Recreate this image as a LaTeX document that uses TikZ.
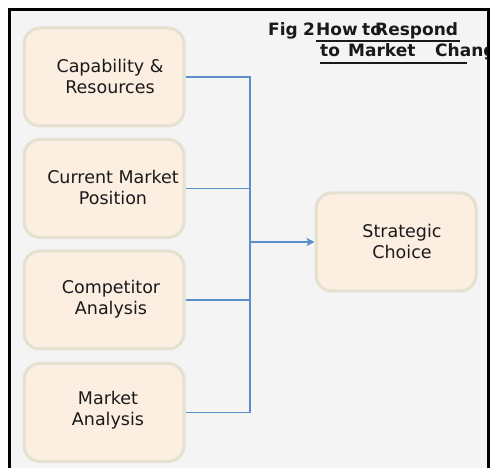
\documentclass[tikz,border=0pt]{standalone}
\usepackage{fontspec}
\setmainfont{DejaVu Sans}
\usetikzlibrary{arrows.meta,calc}
\definecolor{bgray}{HTML}{F4F4F4}
\definecolor{boxfill}{HTML}{FDEEE2}
\definecolor{boxline}{HTML}{E4E1D1}
\definecolor{lineblue}{HTML}{5A8FCC}
\definecolor{txt}{HTML}{1A1A1A}
\tikzset{
  card/.style={draw=boxline, line width=3pt, fill=boxfill, rounded corners=16pt,
    minimum width=160pt, minimum height=98pt, inner sep=0pt},
  cardtext/.style={align=center, text=txt, font=\fontsize{17.5}{21}\selectfont, inner sep=0pt},
  title/.style={anchor=base west, text=txt, font=\bfseries\fontsize{17}{21}\selectfont, inner sep=0pt},
  link/.style={draw=lineblue, line width=1.5pt},
  uline/.style={draw=txt, line width=1.6pt}
}
\begin{document}
\begin{tikzpicture}[x=1pt,y=-1pt]
\useasboundingbox (0,0) rectangle (491,468);
\fill[white] (0,0) rectangle (491,468);
\fill[bgray] (9.5,9.5) rectangle (488.5,470);
\draw[black, line width=3pt] (9.5,472) -- (9.5,9.5) -- (488.5,9.5) -- (488.5,472);
% boxes
\node[card] (b1) at (104,77) {};
\node[card] (b2) at (104,188.5) {};
\node[card] (b3) at (104,300) {};
\node[card] (b4) at (104,412.5) {};
\node[card] (sc) at (396,242) {};
\node[cardtext] (t1) at (110,76) {Capability \&\\Resources};
\node[cardtext] (t2) at (113,187) {Current Market\\Position};
\node[cardtext] (t3) at (111,299) {Competitor\\Analysis};
\node[cardtext] (t4) at (108,410) {Market\\Analysis};
\node[cardtext] (t5) at (402,241) {Strategic\\Choice};
% connectors
\coordinate (j1) at (250,77);
\coordinate (j4) at (250,412.5);
\coordinate (jm) at (250,242);
\draw[link] (b1.east) -- (j1) -- (j4) -- (b4.east);
\draw[link] (b2.east) -- (b2.east -| j1);
\draw[link] (b3.east) -- (b3.east -| j1);
\draw[link, -{Stealth[length=8pt,width=8pt,inset=2pt]}] (jm) -- (sc.west);
% title
\begin{scope}
\clip (0,0) rectangle (487,468);
\node[title] (fig) at (268,36) {Fig};
\node[title] (two) at (303,36) {2};
\node[title] (how) at (316,36) {How};
\node[title] (to1) at (362,36) {to};
\node[title] (resp) at (375,36) {Respond};
\node[title] (to) at (320,57) {to};
\node[title] (mkt) at (348,57) {Market};
\node[title] (chg) at (435,57) {Change};
\draw[uline] ($(how.base west)+(0,5)$) -- (460,41);
\draw[uline] ($(to.base west)+(0,6)$) -- (467,63);
\end{scope}
\end{tikzpicture}
\end{document}
